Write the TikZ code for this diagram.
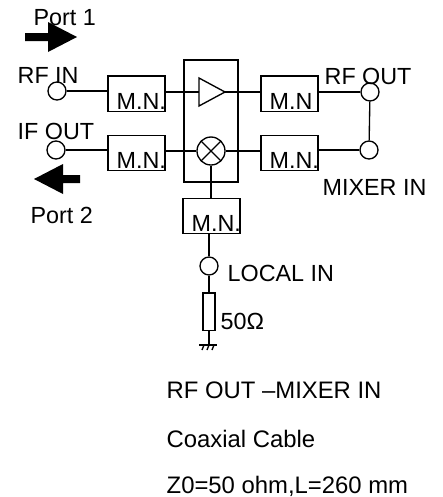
\documentclass[tikz,border=0pt]{standalone}
\usepackage{fontspec}
\setmainfont{Liberation Sans}
\tikzset{
	port/.style={draw, circle, fill=white, inner sep=0pt, minimum size=13.5pt, line width=1pt},
	mnbox/.style={draw, rectangle, inner sep=0pt, minimum width=42.75pt, minimum height=26.5pt, line width=1pt},
	mnlabel/.style={anchor=south west, inner sep=0pt, font=\fontsize{17.5}{20}\selectfont, yshift=1.3pt, xshift=6.5pt},
	txt/.style={inner sep=0pt, font=\fontsize{17.5}{20}\selectfont},
	note/.style={anchor=base west, inner sep=0pt, font=\fontsize{17.9}{20}\selectfont},
	bigarrow/.style={fill=black, draw=none}
}
\begin{document}
\begin{tikzpicture}[x=0.75pt, y=-0.75pt, line width=1pt]
	% Khung hình
	\useasboundingbox (0,0) rectangle (443,497);

	% Khối giữa
	\draw (184,60) rectangle (238,182);

	% Các cổng tròn
	\node[port] (rfin) at (57,91) {};
	\node[port] (ifout) at (56,150) {};
	\node[port] (rfout) at (370,92) {};
	\node[port] (mixerin) at (369,150) {};
	\node[port] (localin) at (209,266) {};

	% Các hộp M.N.
	\node[mnbox] (mn1) at (136.5,93.5) {};
	\node[mnbox] (mn2) at (136.5,153) {};
	\node[mnbox] (mn3) at (289.5,93.5) {};
	\node[mnbox] (mn4) at (289.5,153) {};
	\node[mnbox] (mn5) at (211.5,216) {};
	\node[mnlabel] at (mn1.south west) {M.N.};
	\node[mnlabel] at (mn2.south west) {M.N.};
	\node[mnlabel] at (mn3.south west) {M.N};
	\node[mnlabel] at (mn4.south west) {M.N.};
	\node[mnlabel] at (mn5.south west) {M.N.};

	% Bộ khuếch đại và bộ trộn
	\coordinate (ampin) at (199,92);
	\coordinate (ampout) at (225,92);
	\draw (199,78) -- (199,106) -- (ampout) -- cycle;
	\node[draw, circle, inner sep=0pt, minimum size=21pt, line width=1pt,
		path picture={\draw (path picture bounding box.north west) -- (path picture bounding box.south east)
			(path picture bounding box.north east) -- (path picture bounding box.south west);}] (mixer) at (211,151) {};

	% Điện trở và đất
	\node[draw, rectangle, inner sep=0pt, minimum width=9pt, minimum height=28pt, line width=1pt] (load) at (209,311.5) {};
	\coordinate (gnd) at (209,345);

	% Các đường nối
	\draw (rfin.east) -- (rfin.east -| mn1.west);
	\draw (mn1.east |- ampin) -- (ampin);
	\draw (ifout.east) -- (ifout.east -| mn2.west);
	\draw (mn2.east |- mixer.west) -- (mixer.west);
	\draw (ampout) -- (ampout -| mn3.west);
	\draw (mixer.east) -- (mixer.east -| mn4.west);
	\draw (rfout.west) -- (rfout.west -| mn3.east);
	\draw (mixerin.west) -- (mixerin.west -| mn4.east);
	\draw (rfout) -- (mixerin);
	\draw (mixer.south) -- (mixer.south |- mn5.north);
	\draw (mn5.south -| localin) -- (localin);
	\draw (localin) -- (load);
	\draw (load) -- (gnd);

	% Ký hiệu đất
	\draw (199,345) -- (217,345);
	\draw (204,345) -- (202,350) (209,345) -- (207,350) (214,345) -- (212,350);

	% Mũi tên lớn
	\fill[bigarrow] (25,33) -- (48,33) -- (48,22) -- (77,37) -- (48,52) -- (48,41) -- (25,41) -- cycle;
	\fill[bigarrow] (80,175) -- (63,175) -- (63,164) -- (34,179) -- (63,194) -- (63,183) -- (80,183) -- cycle;

	% Nhãn
	\node[txt, anchor=west] (port1) at (33,18) {Port 1};
	\node[txt, anchor=west] (port2) at (30,215) {Port 2};
	\node[txt, anchor=west] at (17,75) {RF IN};
	\node[txt, anchor=west] at (17,131) {IF OUT};
	\node[txt, anchor=west] at (324,76) {RF OUT};
	\node[txt, anchor=west] at (322,187) {MIXER IN};
	\node[txt, anchor=west] at (227,273) {LOCAL IN};
	\node[txt, anchor=west] at (220,321) {50Ω};
	\node[note] at (166,398) {RF OUT –MIXER IN};
	\node[note] at (166,447) {Coaxial Cable};
	\node[note] at (166,493) {Z0=50 ohm,L=260 mm};
\end{tikzpicture}
\end{document}
